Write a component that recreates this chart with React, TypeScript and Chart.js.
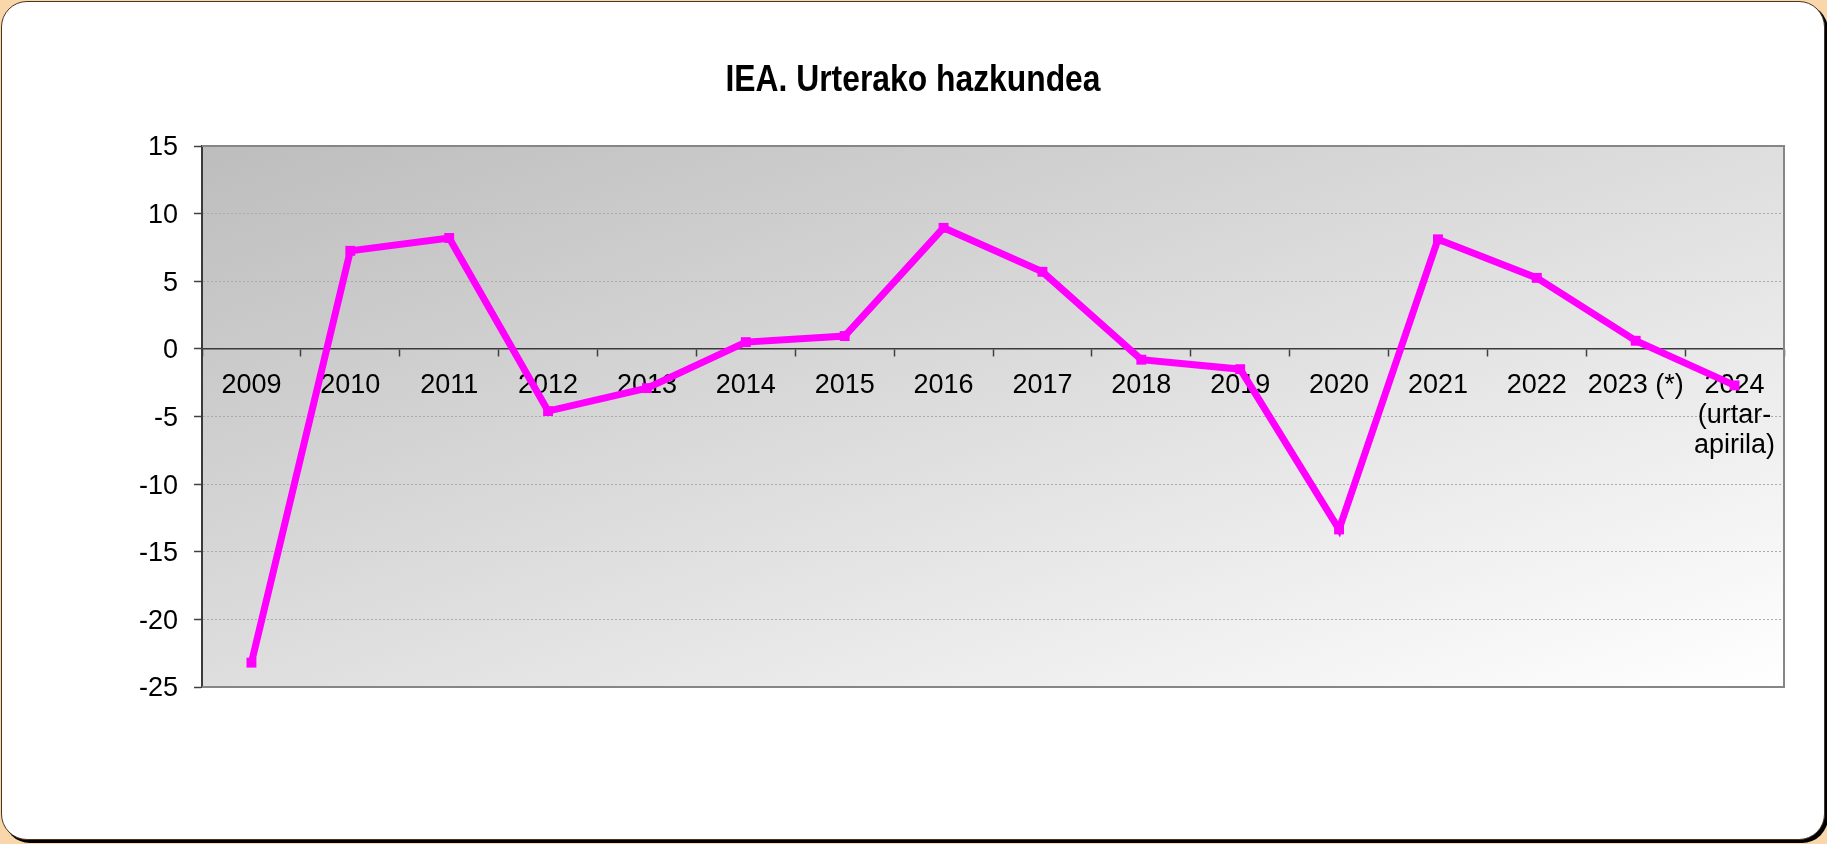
import React, { useEffect, useRef } from "react";
import { Chart, registerables } from "chart.js";

Chart.register(...registerables);

const TITLE = "IEA. Urterako hazkundea";
const categories: (string | string[])[] = [
  "2009", "2010", "2011", "2012", "2013", "2014", "2015", "2016",
  "2017", "2018", "2019", "2020", "2021", "2022", "2023 (*)",
  ["2024", "(urtar-", "apirila)"],
];
const growth = [
  -23.2, 7.25, 8.2, -4.6, -2.9, 0.5, 0.95, 8.95,
  5.7, -0.8, -1.5, -13.35, 8.1, 5.25, 0.6, -2.7,
];
const yMin = -25;
const yMax = 15;
const yStep = 5;

const FONT = '"Liberation Sans", Arial, sans-serif';

const plotBackground = {
  id: "plotBackground",
  beforeDraw(chart: any) {
    const { ctx, chartArea: a } = chart;
    const w = a.right - a.left;
    const h = a.bottom - a.top;
    ctx.save();
    ctx.translate(a.left, a.top);
    ctx.scale(w, h);
    const g = ctx.createLinearGradient(0, 0, 1, 1);
    g.addColorStop(0, "#bdbdbd");
    g.addColorStop(1, "#ffffff");
    ctx.fillStyle = g;
    ctx.fillRect(0, 0, 1, 1);
    ctx.restore();
  },
  beforeDatasetsDraw(chart: any) {
    const { ctx, chartArea: a } = chart;
    ctx.save();
    ctx.strokeStyle = "#868686";
    ctx.lineWidth = 2;
    ctx.beginPath();
    ctx.moveTo(a.left, a.top);
    ctx.lineTo(a.right, a.top);
    ctx.lineTo(a.right, a.bottom);
    ctx.lineTo(a.left, a.bottom);
    ctx.stroke();
    ctx.restore();
  },
  afterDraw(chart: any) {
    const { ctx } = chart;
    ctx.save();
    ctx.font = `bold 36px ${FONT}`;
    ctx.fillStyle = "#000";
    ctx.textAlign = "center";
    ctx.textBaseline = "alphabetic";
    const w = ctx.measureText(TITLE).width;
    ctx.translate(913, 91);
    ctx.scale(375 / w, 1);
    ctx.fillText(TITLE, 0, 0);
    ctx.restore();
  },
};

export default function App() {
  const ref = useRef<HTMLCanvasElement | null>(null);

  useEffect(() => {
    if (!ref.current) return;
    const chart = new Chart(ref.current, {
      type: "line",
      data: {
        labels: categories,
        datasets: [
          {
            data: growth,
            borderColor: "#ff00ff",
            backgroundColor: "#ff00ff",
            borderWidth: 7,
            tension: 0,
            pointStyle: "rect",
            pointRadius: 7,
            pointBackgroundColor: "#ff00ff",
            pointBorderColor: "#ff00ff",
            pointBorderWidth: 0,
            clip: false,
          },
        ],
      },
      options: {
        responsive: false,
        animation: false,
        devicePixelRatio: 1,
        layout: { padding: { left: 0, top: 146, right: 43, bottom: 157 } },
        plugins: {
          legend: { display: false },
          title: { display: false },
          tooltip: { enabled: false },
        },
        scales: {
          x: {
            type: "category",
            position: { y: 0 } as any,
            offset: true,
            grid: {
              offset: true,
              drawOnChartArea: false,
              drawTicks: true,
              tickLength: 7,
              tickColor: "#404040",
              tickWidth: 1.5,
            },
            border: { display: true, color: "#3a3a3a", width: 1.5 },
            ticks: {
              color: "#000",
              font: { family: FONT, size: 27, lineHeight: 1.11 },
              padding: 15,
              maxRotation: 0,
              minRotation: 0,
              autoSkip: false,
            },
          },
          y: {
            min: yMin,
            max: yMax,
            afterFit(scale: any) {
              scale.width = 202;
            },
            grid: {
              drawOnChartArea: true,
              drawTicks: true,
              tickLength: 8,
              color: (c: any) =>
                c.tick && (c.tick.value === yMin || c.tick.value === yMax || c.tick.value === 0)
                  ? "rgba(0,0,0,0)"
                  : "#ababab",
              tickColor: "#404040",
              tickWidth: 1.5,
              lineWidth: 1,
            },
            border: { display: true, color: "#3a3a3a", width: 2, dash: [2, 2] },
            ticks: {
              stepSize: yStep,
              color: "#000",
              font: { family: FONT, size: 27 },
              padding: 16,
              labelOffset: 2,
            },
          },
        },
      },
      plugins: [plotBackground],
    });
    return () => chart.destroy();
  }, []);

  return (
    <div
      style={{
        position: "fixed",
        left: 0,
        top: 0,
        width: 1827,
        height: 844,
        background: "#f9d7ab",
        overflow: "hidden",
      }}
    >
      <div
        style={{
          position: "absolute",
          left: 1,
          top: 1,
          width: 1822,
          height: 837,
          background: "#ffffff",
          border: "1px solid #4a3520",
          borderRadius: 26,
          boxShadow: "3px 3px 0 0 #000",
        }}
      />
      <canvas
        ref={ref}
        width={1827}
        height={844}
        style={{ position: "absolute", left: 0, top: 0, width: 1827, height: 844 }}
      />
    </div>
  );
}
